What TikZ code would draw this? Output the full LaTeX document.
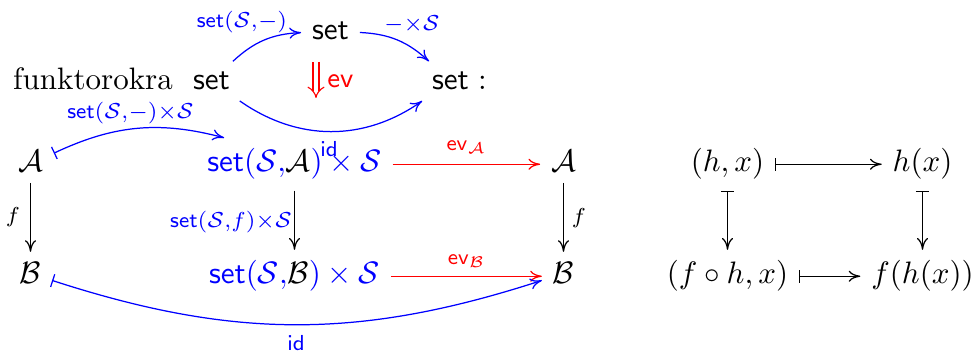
\documentclass[tikz,border=0pt]{standalone}
\usetikzlibrary{arrows.meta}
\tikzset{
  obj/.style={anchor=base, inner sep=3.33pt},
  lbl/.style={inner sep=0pt},
  cdarrow/.style={line width=0.4pt, -{Computer Modern Rightarrow[length=3.8pt,width=3.6pt]}},
  mapsarrow/.style={line width=0.4pt, {Bar[width=4.3pt]}-{Computer Modern Rightarrow[length=3.8pt,width=3.6pt]}},
  evarrow/.style={draw=red, double, double distance=1.6pt, line width=0.35pt, -{Implies}},
}

\begin{document}
\begin{tikzpicture}[x=0.3226pt,y=0.3226pt]
\useasboundingbox (0,0) rectangle (974,351);
% functor row
\node[obj] (funk) at (93,261) {funktorokra};
\node[obj] (set1) at (211.5,261) {$\mathsf{set}$};
\node[obj] (set2) at (330.5,311) {$\mathsf{set}$};
\node[obj] (set3) at (450.5,261) {$\mathsf{set}$};
\node[obj] (colon) at (482.5,261) {:};
\coordinate (evtop) at (316,289);
\coordinate (evbot) at (316,253);
\draw[cdarrow, draw=blue] (set1) to[bend left=20] (set2);
\draw[cdarrow, draw=blue] (set2) to[bend left=20] (set3);
\draw[cdarrow, draw=blue] (set1) to[bend right=35] (set3);
\draw[evarrow] (evtop) -- (evbot);
\node[lbl, blue] (lsetmin) at (242,329) {$\scriptstyle\mathsf{set}(\mathcal{S},-)$};
\node[lbl, blue] (lminS) at (412,326.5) {$\scriptstyle-\times\mathcal{S}$};
\node[lbl, red, font=\small] (lev) at (340.5,269.5) {$\mathsf{ev}$};
\node[lbl, blue] (lid1) at (329,202) {$\scriptstyle\mathsf{id}$};
% evaluation square
\node[obj] (A1) at (30.5,179) {$\mathcal{A}$};
\node[obj, blue] (SA) at (294.5,179) {$\mathsf{set}(\mathcal{S}{,}\textcolor{black}{\mathcal{A}})\times\mathcal{S}$};
\node[obj] (A2) at (563.5,179) {$\mathcal{A}$};
\node[obj] (B1) at (30.5,67) {$\mathcal{B}$};
\node[obj, blue] (SB) at (294.5,67) {$\mathsf{set}(\mathcal{S}{,}\textcolor{black}{\mathcal{B}})\times\mathcal{S}$};
\node[obj] (B2) at (563.5,67) {$\mathcal{B}$};
\draw[mapsarrow, draw=blue] (A1) to[bend left=20] (SA);
\draw[cdarrow, draw=red] (SA.east) -- (SA.east -| A2.west);
\draw[cdarrow] (A1) -- (B1);
\draw[cdarrow] (SA) -- (SB);
\draw[cdarrow] (A2) -- (B2);
\draw[cdarrow, draw=red] (SB.east) -- (SB.east -| B2.west);
\draw[mapsarrow, draw=blue] (B1) to[bend right=18] (B2);
\node[lbl, blue] (lsetmS) at (130.5,238) {$\scriptstyle\mathsf{set}(\mathcal{S},-)\times\mathcal{S}$};
\node[lbl, red] (levA) at (466.5,203.5) {$\scriptstyle\mathsf{ev}_{\mathcal{A}}$};
\node[lbl] (lfA) at (13,133.5) {$\scriptstyle f$};
\node[lbl, blue] (lsetfS) at (231,129) {$\scriptstyle\mathsf{set}(\mathcal{S},f)\times\mathcal{S}$};
\node[lbl] (lfB) at (579,132.5) {$\scriptstyle f$};
\node[lbl, red] (levB) at (466.5,90) {$\scriptstyle\mathsf{ev}_{\mathcal{B}}$};
\node[lbl, blue] (lid2) at (296,8) {$\scriptstyle\mathsf{id}$};
% elements
\node[obj] (hx) at (727.5,179) {$(h,x)$};
\node[obj] (hofx) at (922.5,179) {$h(x)$};
\node[obj] (fhx) at (727.5,67) {$(f\circ h,x)$};
\node[obj] (fhofx) at (922.5,67) {$f(h(x))$};
\draw[mapsarrow] (hx) -- (hofx);
\draw[mapsarrow] (hx) -- (fhx);
\draw[mapsarrow] (hofx) -- (fhofx);
\draw[mapsarrow] (fhx) -- (fhofx);
\end{tikzpicture}
\end{document}
